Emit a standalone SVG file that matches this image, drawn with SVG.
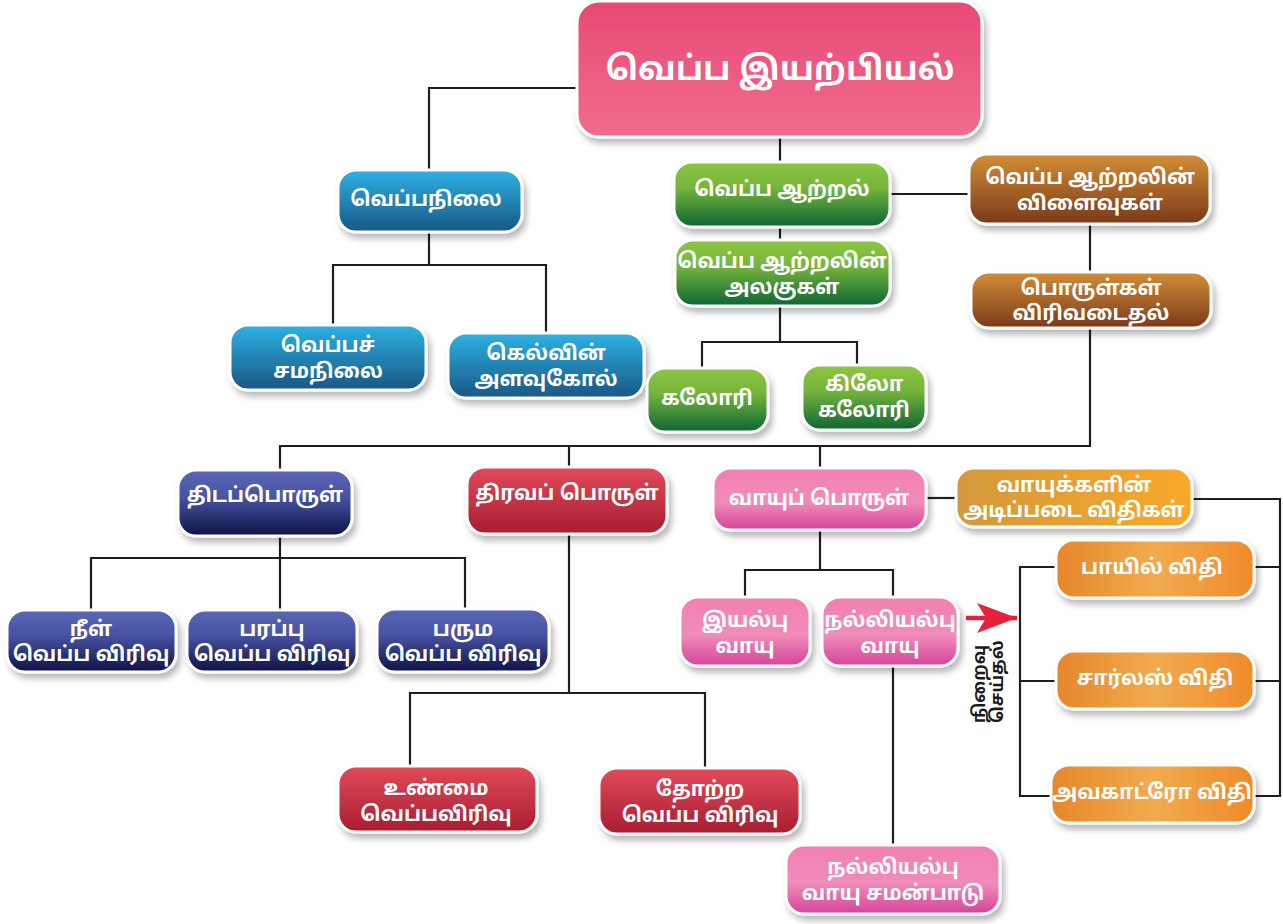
<svg xmlns="http://www.w3.org/2000/svg" width="1283" height="924" viewBox="0 0 1283 924">
<defs>
<style>
.t{font-family:"Noto Sans Tamil","Lohit Tamil","Noto Sans",sans-serif;font-weight:bold;fill:#fff;text-anchor:middle;font-size:20.5px}
.big{font-size:33px}
.box{stroke:#fff;stroke-width:3;filter:url(#sh)}
.ln{fill:none;stroke:#1e1e1e;stroke-width:2.2}
.rot{font-family:"Noto Sans Tamil","Lohit Tamil","Noto Sans",sans-serif;font-weight:bold;fill:#1a1a1a;font-size:17px}
</style>
<filter id="sh" x="-10%" y="-10%" width="125%" height="135%">
<feDropShadow dx="3" dy="5" stdDeviation="3" flood-color="#000" flood-opacity="0.28"/>
</filter>
<linearGradient id="gPink" x1="0" y1="0" x2="0" y2="1"><stop offset="0" stop-color="#e84a75"/><stop offset="1" stop-color="#f06c8c"/></linearGradient>
<linearGradient id="gBlue" x1="0" y1="0" x2="0" y2="1"><stop offset="0" stop-color="#2eb2e4"/><stop offset="1" stop-color="#195684"/></linearGradient>
<linearGradient id="gGreen" x1="0" y1="0" x2="0" y2="1"><stop offset="0" stop-color="#8dc641"/><stop offset="0.4" stop-color="#75b43c"/><stop offset="1" stop-color="#0d6534"/></linearGradient>
<linearGradient id="gBrown" x1="0" y1="0" x2="0" y2="1"><stop offset="0" stop-color="#d38e36"/><stop offset="1" stop-color="#7a391a"/></linearGradient>
<linearGradient id="gNavy" x1="0" y1="0" x2="0" y2="1"><stop offset="0" stop-color="#5a67b5"/><stop offset="0.4" stop-color="#4854a4"/><stop offset="1" stop-color="#0e1345"/></linearGradient>
<linearGradient id="gRed" x1="0" y1="0" x2="0" y2="1"><stop offset="0" stop-color="#e24a5a"/><stop offset="1" stop-color="#a71d31"/></linearGradient>
<linearGradient id="gPinkL" x1="0" y1="0" x2="0" y2="1"><stop offset="0" stop-color="#f27fb1"/><stop offset="0.55" stop-color="#f08cb9"/><stop offset="1" stop-color="#d5439a"/></linearGradient>
<linearGradient id="gGold" x1="0" y1="0" x2="1" y2="0"><stop offset="0" stop-color="#d4983c"/><stop offset="1" stop-color="#f9a828"/></linearGradient>
<linearGradient id="gOrange" x1="0" y1="0" x2="1" y2="0"><stop offset="0" stop-color="#e6862a"/><stop offset="0.5" stop-color="#f1ab4e"/><stop offset="1" stop-color="#f08a2a"/></linearGradient>
<marker id="arr" viewBox="0 0 40 30" refX="40" refY="15" markerWidth="40" markerHeight="30" markerUnits="userSpaceOnUse" orient="auto"><path d="M0,0 L40,15 L0,30 L9,15 Z" fill="#e8203c"/></marker>
</defs>
<rect width="1283" height="924" fill="#fff"/>
<g id="connectors">
<path class="ln" d="M577,88 H429 V170"/>
<path class="ln" d="M780,137 V162"/>
<path class="ln" d="M780,227 V240"/>
<path class="ln" d="M890,194 H969"/>
<path class="ln" d="M1090,224 V272"/>
<path class="ln" d="M1090,328 V446 H280 V470"/>
<path class="ln" d="M569,446 V467"/>
<path class="ln" d="M820,446 V468"/>
<path class="ln" d="M429,232 V265 M333,325 V265 H546 V333"/>
<path class="ln" d="M780,306 V342 M702,368 V342 H857 V365"/>
<path class="ln" d="M280,536 V558 M91,610 V558 H465 V609 M280,558 V610"/>
<path class="ln" d="M569,534 V693 M410,766 V693 H705 V768"/>
<path class="ln" d="M820,530 V570 M745,597 V570 H893 V597"/>
<path class="ln" d="M893,666 V845"/>
<path class="ln" d="M926,498 H956"/>
<path class="ln" d="M1192,499 H1280 V796 H1254 M1254,567 H1280 M1254,681 H1280"/>
<path class="ln" d="M1056,567 H1020 V796 H1051 M1020,681 H1056"/>
<line x1="966" y1="618" x2="1017" y2="618" stroke="#e8203c" stroke-width="4.5" marker-end="url(#arr)"/>
</g>
<g id="n-root"><rect class="box" x="577" y="1" width="405" height="136" rx="22" fill="url(#gPink)"/><text class="t big" x="780" y="80">வெப்ப இயற்பியல்</text></g>
<g id="n-veppanilai"><rect class="box" x="338" y="170" width="184" height="62" rx="18" fill="url(#gBlue)"/><text class="t" x="426" y="206">வெப்பநிலை</text></g>
<g id="n-samanilai"><rect class="box" x="230" y="325" width="196" height="65" rx="18" fill="url(#gBlue)"/><text class="t" x="328" y="352">வெப்பச்<tspan x="328" dy="26">சமநிலை</tspan></text></g>
<g id="n-kelvin"><rect class="box" x="448" y="333" width="196" height="65" rx="18" fill="url(#gBlue)"/><text class="t" x="546" y="360">கெல்வின்<tspan x="546" dy="26">அளவுகோல்</tspan></text></g>
<g id="n-aatral"><rect class="box" x="674" y="162" width="216" height="65" rx="18" fill="url(#gGreen)"/><text class="t" x="782" y="196">வெப்ப ஆற்றல்</text></g>
<g id="n-alagugal"><rect class="box" x="675" y="240" width="215" height="66" rx="18" fill="url(#gGreen)"/><text class="t" x="782" y="268">வெப்ப ஆற்றலின்<tspan x="782" dy="26">அலகுகள்</tspan></text></g>
<g id="n-calorie"><rect class="box" x="647" y="368" width="121" height="64" rx="18" fill="url(#gGreen)"/><text class="t" x="707" y="405">கலோரி</text></g>
<g id="n-kilocalorie"><rect class="box" x="802" y="365" width="124" height="65" rx="18" fill="url(#gGreen)"/><text class="t" x="864" y="391">கிலோ<tspan x="864" dy="26">கலோரி</tspan></text></g>
<g id="n-vilaivugal"><rect class="box" x="969" y="154" width="241" height="70" rx="18" fill="url(#gBrown)"/><text class="t" x="1090" y="184">வெப்ப ஆற்றலின்<tspan x="1090" dy="26">விளைவுகள்</tspan></text></g>
<g id="n-virivadaithal"><rect class="box" x="971" y="272" width="240" height="56" rx="18" fill="url(#gBrown)"/><text class="t" x="1091" y="295">பொருள்கள்<tspan x="1091" dy="25">விரிவடைதல்</tspan></text></g>
<g id="n-thidaporul"><rect class="box" x="178" y="470" width="174" height="66" rx="18" fill="url(#gNavy)"/><text class="t" x="265" y="502">திடப்பொருள்</text></g>
<g id="n-thiravaporul"><rect class="box" x="467" y="467" width="200" height="67" rx="18" fill="url(#gRed)"/><text class="t" x="567" y="500">திரவப் பொருள்</text></g>
<g id="n-vaayuporul"><rect class="box" x="713" y="468" width="213" height="62" rx="18" fill="url(#gPinkL)"/><text class="t" x="819" y="505">வாயுப் பொருள்</text></g>
<g id="n-vidhigal"><rect class="box" x="956" y="468" width="236" height="59" rx="18" fill="url(#gGold)"/><text class="t" x="1074" y="492">வாயுக்களின்<tspan x="1074" dy="25">அடிப்படை விதிகள்</tspan></text></g>
<g id="n-neel"><rect class="box" x="7" y="610" width="169" height="62" rx="18" fill="url(#gNavy)"/><text class="t" x="91" y="636">நீள்<tspan x="91" dy="25">வெப்ப விரிவு</tspan></text></g>
<g id="n-parappu"><rect class="box" x="187" y="610" width="170" height="62" rx="18" fill="url(#gNavy)"/><text class="t" x="272" y="636">பரப்பு<tspan x="272" dy="25">வெப்ப விரிவு</tspan></text></g>
<g id="n-paruma"><rect class="box" x="377" y="609" width="172" height="63" rx="18" fill="url(#gNavy)"/><text class="t" x="463" y="636">பரும<tspan x="463" dy="25">வெப்ப விரிவு</tspan></text></g>
<g id="n-iyalbu"><rect class="box" x="680" y="597" width="130" height="69" rx="18" fill="url(#gPinkL)"/><text class="t" x="745" y="627">இயல்பு<tspan x="745" dy="26">வாயு</tspan></text></g>
<g id="n-nalliyalbu"><rect class="box" x="822" y="597" width="136" height="69" rx="18" fill="url(#gPinkL)"/><text class="t" x="890" y="627">நல்லியல்பு<tspan x="890" dy="26">வாயு</tspan></text></g>
<g id="n-boyle"><rect class="box" x="1056" y="540" width="198" height="58" rx="18" fill="url(#gOrange)"/><text class="t" x="1152" y="574">பாயில் விதி</text></g>
<g id="n-charles"><rect class="box" x="1056" y="651" width="198" height="58" rx="18" fill="url(#gOrange)"/><text class="t" x="1155" y="685">சார்லஸ் விதி</text></g>
<g id="n-avogadro"><rect class="box" x="1051" y="765" width="203" height="58" rx="18" fill="url(#gOrange)"/><text class="t" x="1152" y="799">அவகாட்ரோ விதி</text></g>
<g id="n-unmai"><rect class="box" x="338" y="766" width="199" height="66" rx="18" fill="url(#gRed)"/><text class="t" x="436" y="795">உண்மை<tspan x="436" dy="26">வெப்பவிரிவு</tspan></text></g>
<g id="n-thotra"><rect class="box" x="599" y="768" width="201" height="66" rx="18" fill="url(#gRed)"/><text class="t" x="700" y="796">தோற்ற<tspan x="700" dy="26">வெப்ப விரிவு</tspan></text></g>
<g id="n-samanpadu"><rect class="box" x="786" y="845" width="214" height="69" rx="18" fill="url(#gPinkL)"/><text class="t" x="893" y="874">நல்லியல்பு<tspan x="893" dy="26">வாயு சமன்பாடு</tspan></text></g>
<g id="label-niraivu"><text class="rot" transform="translate(985,723) rotate(-90)">நிறைவு<tspan x="0" dy="18">செய்தல்</tspan></text></g>
</svg>
